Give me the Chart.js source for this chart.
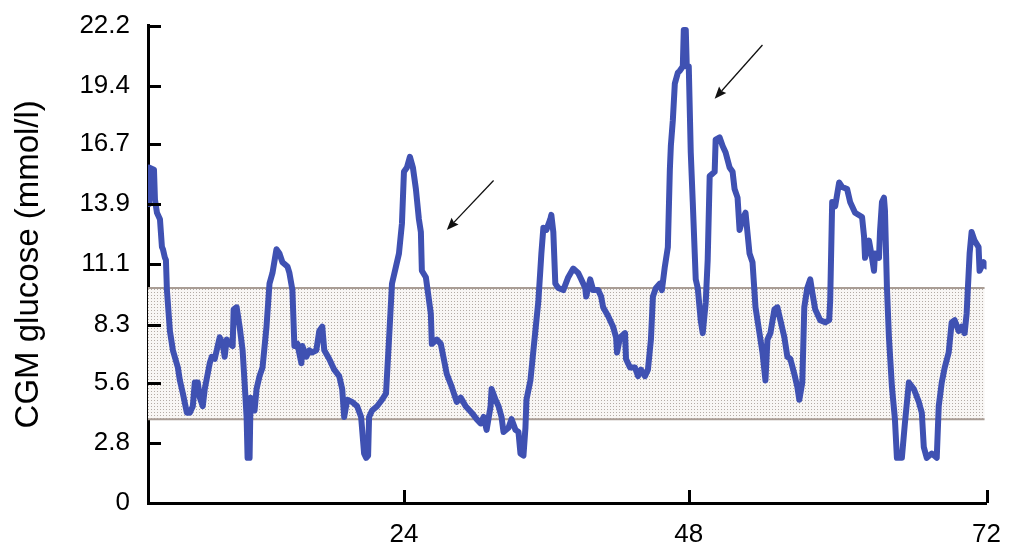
<!DOCTYPE html>
<html>
<head>
<meta charset="utf-8">
<title>CGM glucose</title>
<script src="https://cdn.jsdelivr.net/npm/chart.js@4.4.1/dist/chart.umd.min.js"></script>
<style>
  html, body { margin: 0; padding: 0; background: #ffffff; }
  #wrap { width: 1009px; height: 544px; }
</style>
</head>
<body>
<div id="wrap"><canvas id="cgm" width="1009" height="544"></canvas></div>
<script>
// Sensor readings: position along the 72 h recording and glucose in mmol/l
const readingIndex = [
  0, 1, 6, 7, 9, 12, 14, 15, 17, 18, 19, 22, 25, 30, 32, 35, 39, 42, 45, 47,
  50, 52, 55, 57, 62, 64, 67, 72, 75, 77, 79, 82, 85, 86, 89, 92, 95, 97, 99, 100,
  102, 103, 107, 109, 112, 115, 119, 122, 125, 129, 132, 135, 140, 142, 145, 147, 150, 154, 155, 159,
  162, 165, 169, 172, 175, 177, 182, 187, 192, 195, 197, 200, 205, 210, 214, 217, 219, 221, 222, 225,
  230, 235, 239, 242, 245, 249, 252, 255, 257, 260, 263, 266, 269, 272, 274, 275, 279, 284, 285, 290,
  294, 297, 300, 305, 310, 314, 319, 325, 330, 334, 337, 340, 344, 345, 349, 352, 355, 357, 362, 365,
  369, 372, 374, 377, 379, 380, 384, 387, 392, 395, 397, 400, 404, 405, 407, 409, 412, 417, 422, 427,
  432, 435, 439, 440, 444, 447, 452, 455, 457, 462, 467, 470, 471, 474, 479, 480, 484, 489, 492, 495,
  499, 502, 505, 507, 510, 514, 516, 519, 522, 524, 525, 527, 529, 532, 534, 537, 538, 540, 541, 543,
  545, 547, 549, 550, 552, 555, 557, 560, 562, 564, 569, 570, 574, 577, 580, 584, 587, 589, 592, 594,
  597, 600, 604, 607, 610, 614, 617, 620, 622, 625, 629, 632, 635, 639, 642, 645, 649, 652, 654, 657,
  659, 662, 665, 667, 670, 675, 680, 684, 685, 687, 690, 694, 697, 702, 705, 710, 717, 719, 720, 724,
  727, 729, 730, 734, 735, 737, 739, 740, 742, 744, 747, 750, 752, 757, 760, 764, 769, 774, 777, 779,
  782, 787, 792, 794, 797, 800, 804, 807, 810, 814, 817, 820, 822, 825, 827, 830, 834, 835, 839, 842
];
const glucose = [
  13.9, 15.6, 15.5, 14.1, 13.5, 13.2, 11.9, 11.8, 11.4, 11.3, 9.9, 8.0, 7.1, 6.3, 5.7, 5.1, 4.2, 4.2, 4.5, 5.6,
  5.6, 4.9, 4.5, 5.3, 6.5, 6.8, 6.7, 7.7, 7.4, 6.8, 7.6, 7.4, 7.3, 9.0, 9.1, 8.2, 7.1, 5.6, 4.0, 2.1,
  2.1, 4.9, 4.3, 5.3, 5.9, 6.3, 8.2, 10.2, 10.7, 11.8, 11.6, 11.2, 11.0, 10.7, 9.9, 7.3, 7.4, 6.5, 7.3, 6.8,
  7.1, 7.0, 7.1, 8.0, 8.2, 7.1, 6.7, 6.2, 5.9, 5.3, 4.0, 4.8, 4.7, 4.5, 4.0, 2.3, 2.1, 2.2, 4.0, 4.3,
  4.5, 4.8, 5.1, 7.6, 10.2, 11.0, 11.6, 13.0, 15.4, 15.6, 16.1, 15.6, 14.6, 13.2, 12.6, 10.8, 10.5, 8.8, 7.4, 7.6,
  7.4, 6.7, 6.0, 5.4, 4.7, 4.9, 4.5, 4.2, 3.9, 3.7, 4.0, 3.4, 4.5, 5.3, 4.8, 4.5, 4.0, 3.3, 3.5, 3.9,
  3.4, 3.3, 2.3, 2.2, 3.5, 4.8, 5.7, 7.1, 9.4, 11.6, 12.8, 12.7, 13.2, 13.4, 12.6, 10.2, 10.0, 9.9, 10.5, 10.9,
  10.7, 10.4, 10.0, 9.6, 10.4, 9.9, 9.9, 9.6, 9.1, 8.7, 8.2, 7.7, 7.0, 7.7, 7.9, 6.7, 6.3, 6.3, 5.9, 6.2,
  5.9, 6.2, 7.6, 9.6, 10.0, 10.2, 9.9, 11.0, 11.9, 15.5, 16.6, 17.8, 19.5, 20.0, 20.1, 20.3, 22.0, 22.0, 20.3, 20.3,
  16.3, 14.0, 11.6, 10.4, 10.0, 8.5, 7.9, 9.3, 11.3, 15.2, 15.4, 16.9, 17.0, 16.6, 16.3, 15.6, 15.4, 14.6, 14.2, 12.7,
  13.2, 13.5, 11.6, 11.2, 9.1, 7.9, 7.0, 5.7, 7.6, 7.9, 9.0, 9.1, 8.5, 7.7, 6.8, 6.7, 6.0, 5.4, 4.8, 5.6,
  9.1, 10.0, 10.4, 9.8, 9.0, 8.5, 8.4, 8.5, 9.4, 14.0, 13.8, 14.9, 14.7, 14.6, 14.0, 13.5, 13.3, 12.4, 11.4, 12.2,
  11.4, 10.8, 11.6, 11.4, 12.6, 14.0, 14.2, 13.6, 10.0, 7.7, 5.4, 3.9, 2.1, 2.1, 3.7, 5.6, 5.3, 4.7, 4.2, 2.6,
  2.1, 2.3, 2.1, 4.5, 5.6, 6.3, 7.0, 8.4, 8.5, 8.0, 8.2, 7.9, 8.8, 11.6, 12.6, 12.2, 11.9, 10.8, 11.2, 11.0
];

// Axis ticks
const yTickValues = [0, 2.8, 5.6, 8.3, 11.1, 13.9, 16.7, 19.4, 22.2];
const yTickLabels = ['0', '2.8', '5.6', '8.3', '11.1', '13.9', '16.7', '19.4', '22.2'];
const xTickValues = [257, 543, 842];
const xTickLabels = ['24', '48', '72'];

// Target glucose range (mmol/l)
const targetLow = 3.9;
const targetHigh = 10.0;

// Arrows pointing at post-meal excursions: [reading, mmol/l]
const arrowTails = [[347, 15.0], [617, 21.3]];
const arrowHeads = [[300, 12.7], [569, 18.8]];

const FONT = '"Liberation Sans", Arial, Helvetica, sans-serif';

function makeDotPattern(ctx) {
  const tile = document.createElement('canvas');
  tile.width = 3; tile.height = 3;
  const t = tile.getContext('2d');
  t.fillStyle = '#f8f6f4';
  t.fillRect(0, 0, 3, 3);
  t.fillStyle = '#b3aba5';
  t.fillRect(1, 1, 1, 1);
  return ctx.createPattern(tile, 'repeat');
}

// Dotted target band with its two boundary lines
const targetBand = {
  id: 'targetBand',
  beforeDatasetsDraw(chart) {
    const { ctx, chartArea, scales } = chart;
    const yTop = scales.y.getPixelForValue(targetHigh);
    const yBot = scales.y.getPixelForValue(targetLow);
    const xL = chartArea.left;
    const xR = scales.x.getPixelForValue(xTickValues[xTickValues.length - 1]) - 2;
    ctx.save();
    ctx.fillStyle = makeDotPattern(ctx);
    ctx.fillRect(xL, yTop, xR - xL, yBot - yTop);
    ctx.strokeStyle = '#a99d95';
    ctx.lineWidth = 2;
    ctx.beginPath();
    ctx.moveTo(xL, yTop); ctx.lineTo(xR, yTop);
    ctx.moveTo(xL, yBot); ctx.lineTo(xR, yBot);
    ctx.stroke();
    ctx.restore();
  }
};

// Inward tick marks on both axes
const inwardTicks = {
  id: 'inwardTicks',
  afterDraw(chart) {
    const { ctx, chartArea, scales } = chart;
    ctx.save();
    ctx.strokeStyle = '#000';
    ctx.lineWidth = 3;
    ctx.beginPath();
    yTickValues.forEach(v => {
      const y = Math.round(scales.y.getPixelForValue(v)) + 0.5;
      ctx.moveTo(chartArea.left, y);
      ctx.lineTo(chartArea.left + 13, y);
    });
    xTickValues.forEach(v => {
      const x = Math.round(scales.x.getPixelForValue(v)) + 0.5;
      ctx.moveTo(x, chartArea.bottom);
      ctx.lineTo(x, chartArea.bottom - 13);
    });
    ctx.stroke();
    ctx.restore();
  }
};

// Thin arrows with filled heads
const arrows = {
  id: 'arrows',
  afterDatasetsDraw(chart) {
    const { ctx, scales } = chart;
    ctx.save();
    ctx.strokeStyle = '#111';
    ctx.fillStyle = '#111';
    ctx.lineWidth = 1.3;
    arrowTails.forEach((tail, i) => {
      const x1 = scales.x.getPixelForValue(tail[0]);
      const y1 = scales.y.getPixelForValue(tail[1]);
      const x2 = scales.x.getPixelForValue(arrowHeads[i][0]);
      const y2 = scales.y.getPixelForValue(arrowHeads[i][1]);
      const ang = Math.atan2(y2 - y1, x2 - x1);
      const len = 13, half = 0.38;
      const bx = x2 - len * 0.8 * Math.cos(ang);
      const by = y2 - len * 0.8 * Math.sin(ang);
      ctx.beginPath();
      ctx.moveTo(x1, y1);
      ctx.lineTo(bx, by);
      ctx.stroke();
      ctx.beginPath();
      ctx.moveTo(x2, y2);
      ctx.lineTo(x2 - len * Math.cos(ang - half), y2 - len * Math.sin(ang - half));
      ctx.lineTo(bx, by);
      ctx.lineTo(x2 - len * Math.cos(ang + half), y2 - len * Math.sin(ang + half));
      ctx.closePath();
      ctx.fill();
    });
    ctx.restore();
  }
};

const points = readingIndex.map((x, i) => ({ x: x, y: glucose[i] }));

new Chart(document.getElementById('cgm'), {
  type: 'line',
  data: {
    datasets: [{
      label: 'CGM glucose',
      data: points,
      borderColor: '#3f51b2',
      borderWidth: 6,
      borderJoinStyle: 'round',
      borderCapStyle: 'round',
      pointRadius: 0,
      tension: 0,
      fill: false
    }]
  },
  options: {
    responsive: false,
    animation: false,
    devicePixelRatio: 1,
    layout: { padding: { left: 0, top: 21, right: 19, bottom: 0 } },
    plugins: { legend: { display: false }, tooltip: { enabled: false } },
    scales: {
      x: {
        type: 'linear',
        min: 0,
        max: 842,
        grid: { display: false },
        border: { display: true, color: '#000', width: 3 },
        afterBuildTicks(scale) { scale.ticks = xTickValues.map(v => ({ value: v })); },
        afterFit(scale) { scale.height = 41; },
        ticks: {
          autoSkip: false,
          maxRotation: 0,
          padding: 8,
          color: '#000',
          font: { family: FONT, size: 26 },
          callback(value) {
            const i = xTickValues.indexOf(value);
            return i >= 0 ? xTickLabels[i] : '';
          }
        }
      },
      y: {
        type: 'linear',
        min: 0,
        max: 22.2,
        grid: { display: false },
        border: { display: true, color: '#000', width: 3 },
        afterBuildTicks(scale) { scale.ticks = yTickValues.map(v => ({ value: v })); },
        afterFit(scale) { scale.width = 148; },
        title: {
          display: true,
          text: 'CGM glucose (mmol/l)',
          color: '#000',
          font: { family: FONT, size: 33 },
          padding: { top: 9, bottom: 0 }
        },
        ticks: {
          autoSkip: false,
          padding: 10,
          color: '#000',
          font: { family: FONT, size: 26 },
          callback(value) {
            const i = yTickValues.indexOf(value);
            return i >= 0 ? yTickLabels[i] : '';
          }
        }
      }
    }
  },
  plugins: [targetBand, arrows, inwardTicks]
});
</script>
</body>
</html>
